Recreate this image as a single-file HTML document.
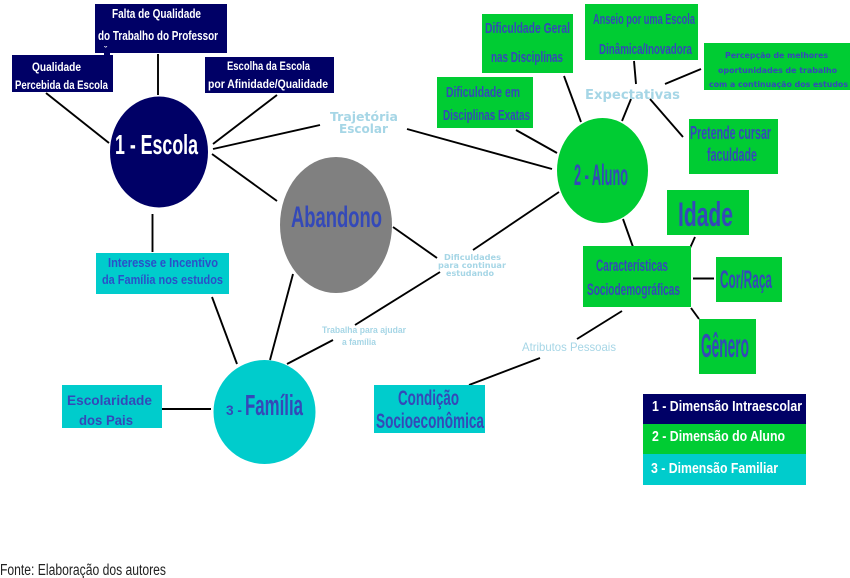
<!DOCTYPE html>
<html><head><meta charset="utf-8">
<style>
html,body{margin:0;padding:0;background:#fff;width:850px;height:578px;overflow:hidden}
svg{display:block}
text{font-family:"Liberation Sans",sans-serif;font-weight:bold}
.n{fill:#fff}
.b{fill:#3449b8}
.t{fill:#2a50c8}
.l{fill:#a6d6e6}
.d{font-family:"DejaVu Sans",sans-serif}
line{stroke:#000;stroke-width:1.9}
.navy{fill:#000066}.green{fill:#00cc33}.teal{fill:#00cccc}
</style></head><body>
<svg width="850" height="578" viewBox="0 0 850 578" xmlns="http://www.w3.org/2000/svg">
<g>
<line x1="46" y1="93" x2="109" y2="143"/>
<line x1="158" y1="54" x2="158" y2="95"/>
<line x1="277" y1="95" x2="213" y2="144"/>
<line x1="213" y1="149" x2="320" y2="125"/>
<line x1="407" y1="129" x2="552" y2="169"/>
<line x1="212" y1="154" x2="277" y2="201"/>
<line x1="152.5" y1="214" x2="152.5" y2="252"/>
<line x1="393" y1="227" x2="437" y2="258"/>
<line x1="293" y1="274" x2="270" y2="360"/>
<line x1="212" y1="297" x2="237" y2="364"/>
<line x1="440" y1="272" x2="355" y2="325"/>
<line x1="333" y1="340" x2="287" y2="364"/>
<line x1="162" y1="409" x2="211" y2="409"/>
<line x1="559" y1="192" x2="473" y2="250"/>
<line x1="564" y1="76" x2="581" y2="122"/>
<line x1="516" y1="130" x2="557" y2="153"/>
<line x1="634" y1="61" x2="636" y2="84"/>
<line x1="665" y1="84" x2="701" y2="69"/>
<line x1="631" y1="99" x2="622" y2="121"/>
<line x1="650" y1="99" x2="683" y2="137"/>
<line x1="623" y1="219" x2="633" y2="247"/>
<line x1="695" y1="237" x2="690" y2="248"/>
<line x1="693" y1="278.5" x2="714" y2="278.5"/>
<line x1="691" y1="308" x2="699" y2="319"/>
<line x1="622" y1="311" x2="577" y2="339"/>
<line x1="540" y1="358" x2="469" y2="385"/>
</g>

<rect class="navy" x="95" y="4" width="132" height="49"/>
<rect class="navy" x="104" y="53" width="6" height="2"/>
<rect class="navy" x="12" y="55" width="101" height="37"/>
<rect class="navy" x="205" y="57" width="129" height="36"/>
<ellipse class="navy" cx="159" cy="152" rx="49" ry="55.5"/>
<ellipse fill="#808080" cx="336" cy="225" rx="56" ry="68"/>
<rect class="teal" x="96" y="253" width="133" height="41"/>
<ellipse class="teal" cx="264.5" cy="412" rx="51" ry="52"/>
<rect class="teal" x="62" y="385" width="100" height="43"/>
<rect class="teal" x="374" y="385" width="111" height="48"/>
<ellipse class="green" cx="602.5" cy="170.5" rx="45.5" ry="52.5"/>
<rect class="green" x="482" y="14" width="91" height="59"/>
<rect class="green" x="585" y="4" width="113" height="56"/>
<rect class="green" x="704" y="43" width="146" height="47"/>
<rect class="green" x="437" y="77" width="96" height="51"/>
<rect class="green" x="689" y="119" width="89" height="55"/>
<rect class="green" x="667" y="190" width="82" height="45"/>
<rect class="green" x="583" y="246" width="108" height="61"/>
<rect class="green" x="716" y="257" width="66" height="45"/>
<rect class="green" x="699" y="319" width="57" height="55"/>
<rect class="navy" x="643" y="394" width="163" height="30"/>
<rect class="green" x="643" y="424" width="163" height="30"/>
<rect class="teal" x="643" y="454" width="163" height="31"/>

<text class="n" x="112" y="18" font-size="12.5" textLength="89" lengthAdjust="spacingAndGlyphs">Falta de Qualidade</text>
<text class="n" x="98" y="40" font-size="12.5" textLength="120" lengthAdjust="spacingAndGlyphs">do Trabalho do Professor</text>
<text class="n" x="104" y="53" font-size="9">ˇ</text>
<text class="n" x="32" y="71" font-size="11.5" textLength="49" lengthAdjust="spacingAndGlyphs">Qualidade</text>
<text class="n" x="15" y="89" font-size="11.5" textLength="93" lengthAdjust="spacingAndGlyphs">Percebida da Escola</text>
<text class="n" x="227" y="70" font-size="12" textLength="83" lengthAdjust="spacingAndGlyphs">Escolha da Escola</text>
<text class="n" x="208" y="88" font-size="12" textLength="120" lengthAdjust="spacingAndGlyphs">por Afinidade/Qualidade</text>
<text class="n" x="115" y="154" font-size="28" textLength="83" lengthAdjust="spacingAndGlyphs">1 - Escola</text>

<text class="l d" x="330" y="121" font-size="12" textLength="68" lengthAdjust="spacingAndGlyphs">Trajetória</text>
<text class="l d" x="339" y="133" font-size="12" textLength="49" lengthAdjust="spacingAndGlyphs">Escolar</text>
<text class="b" x="291" y="227" font-size="30" textLength="91" lengthAdjust="spacingAndGlyphs">Abandono</text>

<text class="t" x="108" y="267" font-size="13" textLength="110" lengthAdjust="spacingAndGlyphs">Interesse e Incentivo</text>
<text class="t" x="102" y="284" font-size="13" textLength="121" lengthAdjust="spacingAndGlyphs">da Família nos estudos</text>

<text class="b" x="485" y="33" font-size="15" textLength="85" lengthAdjust="spacingAndGlyphs">Dificuldade Geral</text>
<text class="b" x="491" y="62" font-size="15" textLength="72" lengthAdjust="spacingAndGlyphs">nas Disciplinas</text>
<text class="b" x="593" y="24" font-size="15" textLength="102" lengthAdjust="spacingAndGlyphs">Anseio por uma Escola</text>
<text class="b" x="599" y="54" font-size="15" textLength="93" lengthAdjust="spacingAndGlyphs">Dinâmica/Inovadora</text>
<text class="b d" x="725" y="58" font-size="8" textLength="103" lengthAdjust="spacingAndGlyphs">Percepção de melhores</text>
<text class="b d" x="718" y="73" font-size="8" textLength="119" lengthAdjust="spacingAndGlyphs">oportunidades de trabalho</text>
<text class="b d" x="709" y="87" font-size="8" textLength="139" lengthAdjust="spacingAndGlyphs">com a continuação dos estudos</text>
<text class="l d" x="585" y="99" font-size="13" textLength="95" lengthAdjust="spacingAndGlyphs">Expectativas</text>
<text class="b" x="446" y="97" font-size="15" textLength="74" lengthAdjust="spacingAndGlyphs">Dificuldade em</text>
<text class="b" x="443" y="120" font-size="15" textLength="87" lengthAdjust="spacingAndGlyphs">Disciplinas Exatas</text>
<text class="b" x="690" y="139" font-size="18" textLength="81" lengthAdjust="spacingAndGlyphs">Pretende cursar</text>
<text class="b" x="707" y="161" font-size="18" textLength="50" lengthAdjust="spacingAndGlyphs">faculdade</text>
<text class="b" x="574" y="185" font-size="30" textLength="54" lengthAdjust="spacingAndGlyphs">2 - Aluno</text>
<text class="b" x="678" y="226" font-size="34" textLength="55" lengthAdjust="spacingAndGlyphs">Idade</text>
<text class="b" x="596" y="271" font-size="17" textLength="72" lengthAdjust="spacingAndGlyphs">Características</text>
<text class="b" x="587" y="295" font-size="17" textLength="93" lengthAdjust="spacingAndGlyphs">Sociodemográficas</text>
<text class="b" x="720" y="288" font-size="25" textLength="52" lengthAdjust="spacingAndGlyphs">Cor/Raça</text>
<text class="b" x="701" y="357" font-size="33" textLength="48" lengthAdjust="spacingAndGlyphs">Gênero</text>

<text class="l d" x="444" y="260" font-size="8" textLength="57" lengthAdjust="spacingAndGlyphs">Dificuldades</text>
<text class="l d" x="438" y="268" font-size="8" textLength="68" lengthAdjust="spacingAndGlyphs">para continuar</text>
<text class="l d" x="446" y="276" font-size="8" textLength="48" lengthAdjust="spacingAndGlyphs">estudando</text>
<text class="l" x="322" y="333" font-size="9" textLength="84" lengthAdjust="spacingAndGlyphs">Trabalha para ajudar</text>
<text class="l" x="342" y="345" font-size="9" textLength="34" lengthAdjust="spacingAndGlyphs">a família</text>
<text class="l" x="522" y="351" font-size="12" textLength="94" lengthAdjust="spacingAndGlyphs" style="font-weight:normal">Atributos Pessoais</text>

<text class="b" x="398" y="405" font-size="21" textLength="61" lengthAdjust="spacingAndGlyphs">Condição</text>
<text class="b" x="376" y="428" font-size="21" textLength="108" lengthAdjust="spacingAndGlyphs">Socioeconômica</text>
<text class="b" x="226" y="415" font-size="14" textLength="16" lengthAdjust="spacingAndGlyphs">3 -</text>
<text class="b" x="245" y="415" font-size="29" textLength="58" lengthAdjust="spacingAndGlyphs">Família</text>
<text class="b" x="67" y="405" font-size="13.5" textLength="85" lengthAdjust="spacingAndGlyphs">Escolaridade</text>
<text class="b" x="79" y="425" font-size="13.5" textLength="54" lengthAdjust="spacingAndGlyphs">dos Pais</text>

<text class="n" x="652" y="411" font-size="14.5" textLength="150" lengthAdjust="spacingAndGlyphs">1 - Dimensão Intraescolar</text>
<text class="n" x="652" y="441" font-size="14.5" textLength="133" lengthAdjust="spacingAndGlyphs">2 - Dimensão do Aluno</text>
<text class="n" x="651" y="473" font-size="14.5" textLength="127" lengthAdjust="spacingAndGlyphs">3 - Dimensão Familiar</text>

<text x="0" y="575" font-size="15.5" fill="#222" textLength="166" lengthAdjust="spacingAndGlyphs" style="font-weight:normal">Fonte: Elaboração dos autores</text>
</svg>
</body></html>
